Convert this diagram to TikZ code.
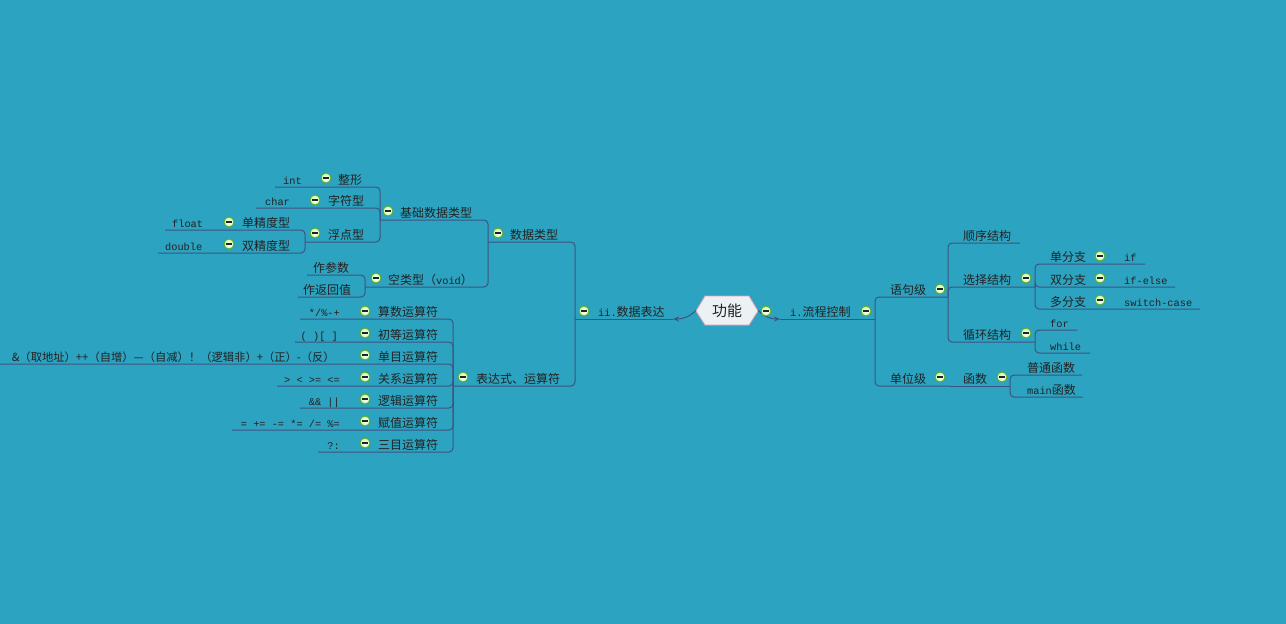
\documentclass[tikz,border=0pt]{standalone}
\usepackage{fontspec}
\newfontfamily\cjk{Noto Sans CJK SC}
\newfontfamily\codef{Liberation Mono}
\usetikzlibrary{arrows.meta}

\definecolor{bgteal}{RGB}{44,163,192}
\definecolor{brline}{RGB}{62,84,128}
\definecolor{txt}{RGB}{34,34,34}
\definecolor{hexfill}{RGB}{236,241,244}
\definecolor{hexpink}{RGB}{222,160,190}
\definecolor{foldgreen}{RGB}{96,170,40}

\begin{document}
\begin{tikzpicture}[x=1pt,y=-1pt,
  lbl/.style={font=\cjk\fontsize{12}{14}\selectfont,text=txt,inner sep=0pt,anchor=base west},
  cd/.style={font=\codef\fontsize{10.3}{12}\selectfont,text=txt,inner sep=0pt,anchor=base west},
  br/.style={draw=brline,line width=1pt,rounded corners=4pt},
  fold/.style={circle,draw=foldgreen,line width=0.9pt,inner color=white,outer color=yellow!30!green!30,
    minimum size=10pt,inner sep=0pt,
    path picture={\draw[line width=1.4pt,txt] ([xshift=-2.6pt]path picture bounding box.center) -- ([xshift=2.6pt]path picture bounding box.center);}},
  rootbox/.style={minimum width=62pt,minimum height=29pt,inner sep=0pt,font=\cjk\fontsize{15}{17}\selectfont,text=txt}]
\fill[bgteal] (0,0) rectangle (1286,624);
\useasboundingbox (0,0) rectangle (1286,624);

% centre
\draw[hexpink,fill=hexfill,line width=0.8pt] (696,311) -- (705,296) -- (749,296) -- (758,311) -- (749,325) -- (705,325) -- cycle;
\node[rootbox] (root) at (727,310.5) {功能};

% junctions
\coordinate (jR) at (875,319);
\coordinate (jYJ) at (948,297);
\coordinate (jXZ) at (1035,287);
\coordinate (jXH) at (1035,342);
\coordinate (jHS) at (1010,386);
\coordinate (jL) at (575,319);
\coordinate (jSJ) at (488,242);
\coordinate (jJC) at (380,220);
\coordinate (jFD) at (305,242);
\coordinate (jKL) at (365,287);
\coordinate (jBD) at (453,386);

% right side: lines
\draw[br,-{Stealth[length=6pt,width=5pt]}] (root.east) to[out=-45,in=180] (780,319);
\draw[br] (780,319) -- (jR);
\draw[br] (jR) |- (jYJ);
\draw[br] (jR) |- (950,386);
\draw[br] (950,386) -- (jHS);
\draw[br] (jYJ) |- (1020,243);
\draw[br] (jYJ) |- (jXZ);
\draw[br] (jYJ) |- (jXH);
\draw[br] (jXZ) |- (1145,264);
\draw[br] (jXZ) |- (1175,287);
\draw[br] (jXZ) |- (1200,309);
\draw[br] (jXH) |- (1077,330);
\draw[br] (jXH) |- (1090,353);
\draw[br] (jHS) |- (1082,375);
\draw[br] (jHS) |- (1083,397);

% left side: lines
\draw[br,-{Stealth[length=6pt,width=5pt]}] (root.west) to[out=225,in=0] (673,319);
\draw[br] (673,319) -- (jL);
\draw[br] (jL) |- (jSJ);
\draw[br] (jL) |- (jBD);
\draw[br] (jSJ) |- (jJC);
\draw[br] (jSJ) |- (jKL);
\draw[br] (jJC) |- (275,187);
\draw[br] (jJC) |- (256,208);
\draw[br] (jJC) |- (jFD);
\draw[br] (jFD) |- (165,230);
\draw[br] (jFD) |- (158,253);
\draw[br] (jKL) |- (307,275);
\draw[br] (jKL) |- (298,297);
\draw[br] (jBD) |- (300,319);
\draw[br] (jBD) |- (295,342);
\draw[br] (jBD) |- (0,364);
\draw[br] (jBD) |- (277,386);
\draw[br] (jBD) |- (300,408);
\draw[br] (jBD) |- (232,430);
\draw[br] (jBD) |- (318,452);

% right side: texts
\node[lbl] (lc) at (790,316) {{\codef\fontsize{10.3}{12}\selectfont i.}流程控制};
\node[lbl] (yjj) at (890,294) {语句级};
\node[lbl] (sxjg) at (963,240) {顺序结构};
\node[lbl] (xzjg) at (963,284) {选择结构};
\node[lbl] (dfz) at (1050,261) {单分支};
\node[cd] (cif) at (1124,261) {if};
\node[lbl] (sfz) at (1050,284) {双分支};
\node[cd] (cife) at (1124,284) {if-else};
\node[lbl] (mfz) at (1050,306) {多分支};
\node[cd] (csw) at (1124,306) {switch-case};
\node[lbl] (xhjg) at (963,339) {循环结构};
\node[cd] (cfor) at (1050,327) {for};
\node[cd] (cwhile) at (1050,350) {while};
\node[lbl] (dwj) at (890,383) {单位级};
\node[lbl] (hs) at (963,383) {函数};
\node[lbl] (pths) at (1027,372) {普通函数};
\node[lbl] (mhs) at (1027,394) {{\codef\fontsize{10.3}{12}\selectfont main}函数};

% left side: texts
\node[lbl] (sjbd) at (598,316) {{\codef\fontsize{10.3}{12}\selectfont ii.}数据表达};
\node[lbl] (sjlx) at (510,239) {数据类型};
\node[lbl] (jcsj) at (400,217) {基础数据类型};
\node[lbl] (zx) at (338,184) {整形};
\node[cd] (cint) at (283,184) {int};
\node[lbl] (zfx) at (328,205) {字符型};
\node[cd] (cchar) at (265,205) {char};
\node[lbl] (fdx) at (328,239) {浮点型};
\node[lbl] (djd) at (242,227) {单精度型};
\node[cd] (cfloat) at (172,227) {float};
\node[lbl] (sjd) at (242,250) {双精度型};
\node[cd] (cdouble) at (165,250) {double};
\node[lbl] (klx) at (388,284) {空类型（{\codef\fontsize{10.3}{12}\selectfont void}）};
\node[lbl] (zcs) at (313,272) {作参数};
\node[lbl] (zfh) at (303,294) {作返回值};
\node[lbl] (bds) at (476,383) {表达式、运算符};
\node[lbl] (ss) at (378,316) {算数运算符};
\node[cd,anchor=base east] (css) at (340,316) {*/\%-+};
\node[lbl] (cd1) at (378,339) {初等运算符};
\node[cd,anchor=base east] (ccd) at (338,339) {( )[ ]};
\node[lbl] (dm) at (378,361) {单目运算符};
\node[lbl,anchor=base east,font=\cjk\fontsize{11.3}{13}\selectfont] (cdm) at (335,361) {\&（取地址）++（自增）—（自减）！（逻辑非）+（正）-（反）};
\node[lbl] (gx) at (378,383) {关系运算符};
\node[cd,anchor=base east] (cgx) at (340,383) {> < >= <=};
\node[lbl] (lj) at (378,405) {逻辑运算符};
\node[cd,anchor=base east] (clj) at (340,405) {\&\& ||};
\node[lbl] (fz) at (378,427) {赋值运算符};
\node[cd,anchor=base east] (cfz) at (340,427) {= += -= *= /= \%=};
\node[lbl] (sm) at (378,449) {三目运算符};
\node[cd,anchor=base east] (csm) at (340,449) {?:};

% fold icons
\node[fold] at (766,311) {};
\node[fold] at (866,311) {};
\node[fold] at (940,289) {};
\node[fold] at (1026,278) {};
\node[fold] at (1100,256) {};
\node[fold] at (1100,278) {};
\node[fold] at (1100,300) {};
\node[fold] at (1026,333) {};
\node[fold] at (940,377) {};
\node[fold] at (1002,377) {};
\node[fold] at (584,311) {};
\node[fold] at (498,233) {};
\node[fold] at (388,211) {};
\node[fold] at (326,178) {};
\node[fold] at (315,200) {};
\node[fold] at (315,233) {};
\node[fold] at (229,222) {};
\node[fold] at (229,244) {};
\node[fold] at (376,278) {};
\node[fold] at (463,377) {};
\foreach \yy in {311,333,355,377,399,421,443}
  \node[fold] at (365,\yy) {};
\end{tikzpicture}
\end{document}
